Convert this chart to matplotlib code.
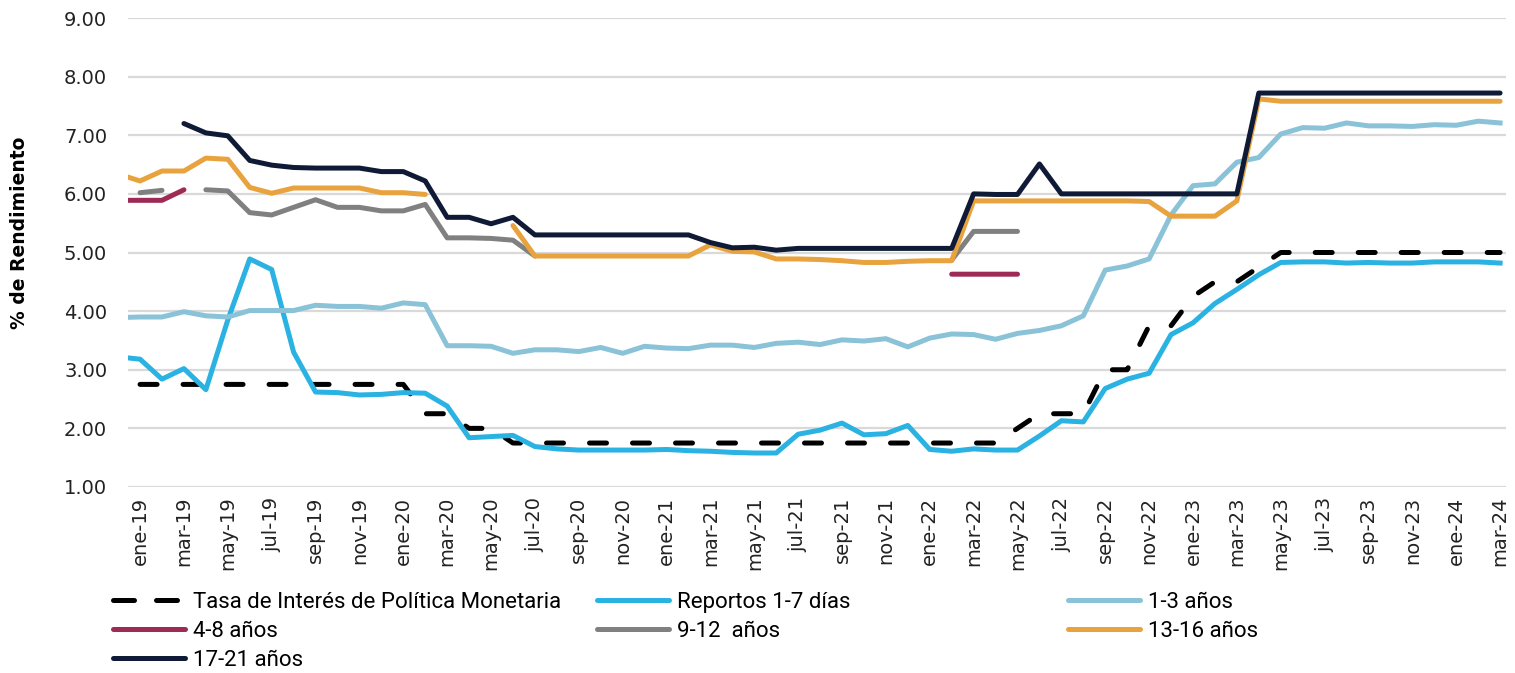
import numpy as np
import matplotlib
matplotlib.use("Agg")
import matplotlib.pyplot as plt
from matplotlib.lines import Line2D

nan = np.nan

# meses desde dic-18 hasta mar-24 (dic-18 queda recortado en el borde izquierdo)
meses = ['ene', 'feb', 'mar', 'abr', 'may', 'jun', 'jul', 'ago', 'sep', 'oct', 'nov', 'dic']
fechas = ['dic-18'] + [f'{m}-{a}' for a in range(19, 25) for m in meses][:63]

tpm = [nan,
       2.75, 2.75, 2.75, 2.75, 2.75, 2.75, 2.75, 2.75, 2.75, 2.75, 2.75, 2.75,
       2.75, 2.25, 2.25, 2.00, 2.00, 1.75, 1.75, 1.75, 1.75, 1.75, 1.75, 1.75,
       1.75, 1.75, 1.75, 1.75, 1.75, 1.75, 1.75, 1.75, 1.75, 1.75, 1.75, 1.75,
       1.75, 1.75, 1.75, 1.75, 2.00, 2.25, 2.25, 2.25, 3.00, 3.00, 3.75, 3.75,
       4.25, 4.50, 4.50, 4.75, 5.00, 5.00, 5.00, 5.00, 5.00, 5.00, 5.00, 5.00,
       5.00, 5.00, 5.00]

reportos = [3.22,
            3.18, 2.84, 3.02, 2.66, 3.85, 4.89, 4.71, 3.30, 2.62, 2.61, 2.57, 2.58,
            2.61, 2.60, 2.38, 1.84, 1.86, 1.88, 1.69, 1.65, 1.63, 1.63, 1.63, 1.63,
            1.64, 1.62, 1.61, 1.59, 1.58, 1.58, 1.90, 1.97, 2.09, 1.89, 1.91, 2.05,
            1.64, 1.61, 1.65, 1.63, 1.63, 1.87, 2.13, 2.11, 2.68, 2.84, 2.94, 3.60,
            3.80, 4.13, 4.37, 4.62, 4.83, 4.84, 4.84, 4.82, 4.83, 4.82, 4.82, 4.84,
            4.84, 4.84, 4.82]

a1_3 = [3.89,
        3.90, 3.90, 3.99, 3.92, 3.90, 4.01, 4.01, 4.01, 4.10, 4.08, 4.08, 4.05,
        4.14, 4.11, 3.41, 3.41, 3.40, 3.28, 3.34, 3.34, 3.31, 3.38, 3.28, 3.40,
        3.37, 3.36, 3.42, 3.42, 3.38, 3.45, 3.47, 3.43, 3.51, 3.49, 3.53, 3.39,
        3.54, 3.61, 3.60, 3.52, 3.62, 3.67, 3.75, 3.92, 4.70, 4.77, 4.89, 5.64,
        6.14, 6.17, 6.54, 6.62, 7.02, 7.13, 7.12, 7.21, 7.16, 7.16, 7.15, 7.18,
        7.17, 7.24, 7.21]

a4_8 = [5.89,
        5.89, 5.89, 6.07, nan, nan, nan, nan, nan, nan, nan, nan, nan,
        nan, nan, nan, nan, nan, nan, nan, nan, nan, nan, nan, nan,
        nan, nan, nan, nan, nan, nan, nan, nan, nan, nan, nan, nan,
        nan, 4.63, 4.63, 4.63, 4.63, nan, nan, nan, nan, nan, nan, nan,
        nan, nan, nan, nan, nan, nan, nan, nan, nan, nan, nan, nan,
        nan, nan, nan]

a9_12 = [nan,
         6.02, 6.06, nan, 6.07, 6.05, 5.68, 5.64, 5.77, 5.90, 5.77, 5.77, 5.71,
         5.71, 5.82, 5.25, 5.25, 5.24, 5.21, 4.94, nan, nan, nan, nan, nan,
         nan, nan, nan, nan, nan, nan, nan, nan, nan, nan, nan, nan,
         nan, 4.87, 5.36, 5.36, 5.36, nan, nan, nan, nan, nan, nan, nan,
         nan, nan, nan, nan, nan, nan, nan, nan, nan, nan, nan, nan,
         nan, nan, nan]

a13_16 = [6.34,
          6.22, 6.39, 6.39, 6.61, 6.59, 6.11, 6.01, 6.10, 6.10, 6.10, 6.10, 6.02,
          6.02, 5.99, nan, nan, nan, 5.46, 4.94, 4.94, 4.94, 4.94, 4.94, 4.94,
          4.94, 4.94, 5.13, 5.02, 5.01, 4.89, 4.89, 4.88, 4.86, 4.83, 4.83, 4.85,
          4.86, 4.86, 5.88, 5.88, 5.88, 5.88, 5.88, 5.88, 5.88, 5.88, 5.87, 5.62,
          5.62, 5.62, 5.88, 7.62, 7.58, 7.58, 7.58, 7.58, 7.58, 7.58, 7.58, 7.58,
          7.58, 7.58, 7.58]

a17_21 = [nan,
          nan, nan, 7.20, 7.04, 6.99, 6.57, 6.49, 6.45, 6.44, 6.44, 6.44, 6.38,
          6.38, 6.22, 5.60, 5.60, 5.49, 5.60, 5.30, 5.30, 5.30, 5.30, 5.30, 5.30,
          5.30, 5.30, 5.17, 5.08, 5.09, 5.04, 5.07, 5.07, 5.07, 5.07, 5.07, 5.07,
          5.07, 5.07, 6.00, 5.99, 5.99, 6.51, 6.00, 6.00, 6.00, 6.00, 6.00, 6.00,
          6.00, 6.00, 6.00, 7.72, 7.72, 7.72, 7.72, 7.72, 7.72, 7.72, 7.72, 7.72,
          7.72, 7.72, 7.72]

x = np.arange(-1, len(fechas) - 1)

colores = {
    'tpm': '#000000',
    'rep': '#29b2e2',
    '1-3': '#8ac2d8',
    '4-8': '#9e2b55',
    '9-12': '#808080',
    '13-16': '#e8a33e',
    '17-21': '#0f1a36',
}
lw = 3.6

fig = plt.figure(figsize=(15.15, 6.73), dpi=100)
ax = fig.add_axes([128 / 1515, 1 - 487 / 673, (1506 - 128) / 1515, (487 - 18) / 673])

ax.plot(x, tpm, color=colores['tpm'], lw=lw, dashes=(3.4, 5.2),
        dash_capstyle='round', label='Tasa de Interés de Política Monetaria')
ax.plot(x, reportos, color=colores['rep'], lw=lw, label='Reportos 1-7 días')
ax.plot(x, a1_3, color=colores['1-3'], lw=lw, label='1-3 años')
ax.plot(x, a4_8, color=colores['4-8'], lw=lw, solid_capstyle='round', label='4-8 años')
ax.plot(x, a9_12, color=colores['9-12'], lw=lw, solid_capstyle='round', label='9-12  años')
ax.plot(x, a13_16, color=colores['13-16'], lw=lw, solid_capstyle='round', label='13-16 años')
ax.plot(x, a17_21, color=colores['17-21'], lw=lw, solid_capstyle='round', label='17-21 años')

ax.set_xlim(-0.55, 62.27)
ax.set_ylim(1, 9)
ax.set_yticks(np.arange(1, 10))
ax.set_yticklabels([f'{v:.2f}' for v in np.arange(1, 10)])
ax.set_xticks(x[1::2])
ax.set_xticklabels(fechas[1::2], rotation=90)
ax.tick_params(axis='both', length=0, labelsize=14, labelcolor='#222222')
ax.tick_params(axis='y', pad=15)
ax.tick_params(axis='x', pad=7)
ax.grid(axis='y', color='#d9d9d9', lw=1.6)
ax.set_axisbelow(True)
for s in ax.spines.values():
    s.set_visible(False)

fig.text(20 / 1515, 1 - 233 / 673, '% de Rendimiento', rotation=90,
         fontsize=13.5, fontweight='bold', ha='center', va='center')

# leyenda en tres columnas de ancho fijo
handles, labels = ax.get_legend_handles_labels()
grupos = [(113, [0, 3, 6]), (597, [1, 4]), (1068, [2, 5])]
for x0, idx in grupos:
    hs = []
    for i in idx:
        if i == 0:
            hs.append(Line2D([], [], color='black', lw=lw, dashes=(4.2, 4.4),
                             dash_capstyle='round'))
        else:
            hs.append(Line2D([], [], color=handles[i].get_color(), lw=lw,
                             solid_capstyle='round'))
    fig.legend(hs, [labels[i] for i in idx], loc='upper left',
               bbox_to_anchor=(x0 / 1515, 1 - 592 / 673), frameon=False,
               borderpad=0, borderaxespad=0, handlelength=3.25, handletextpad=0.35,
               labelspacing=0.36, prop={'family': 'Roboto', 'size': 16})

fig.savefig('out.png', dpi=100)
